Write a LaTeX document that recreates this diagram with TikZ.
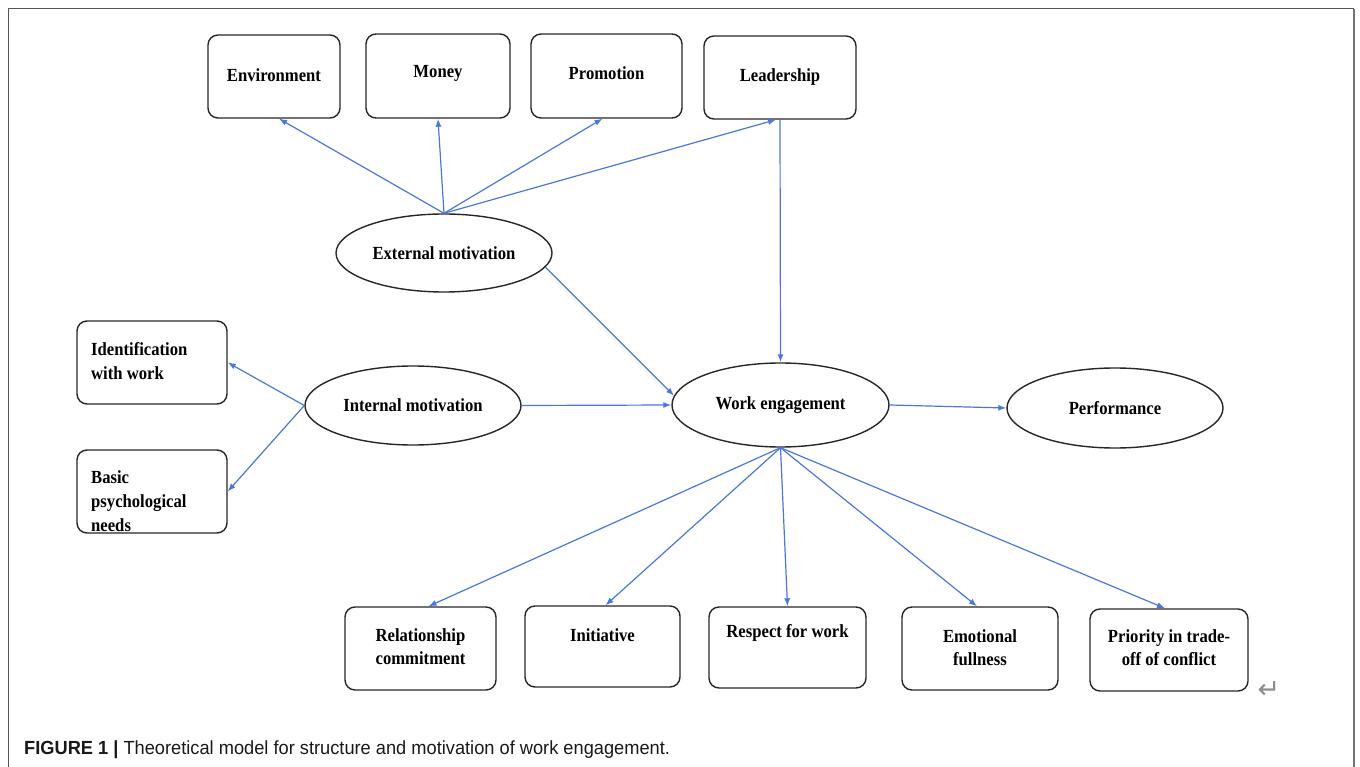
\documentclass[tikz,border=0pt]{standalone}
\usepackage{fontspec}
\setmainfont{Liberation Serif}
\newfontfamily\nodefont{Liberation Serif}[FakeStretch=0.9]
\newfontfamily\capfont{Liberation Sans}[FakeStretch=0.96]
\newfontfamily\symfont{DejaVu Sans}
\usetikzlibrary{shapes.geometric,arrows.meta,calc}
\definecolor{arrblue}{HTML}{4A78DA}
\definecolor{framegray}{HTML}{555555}
\begin{document}
\begin{tikzpicture}[x=1pt,y=-1pt,
  box/.style={draw=black!85, line width=1.4pt, rounded corners=10pt, inner sep=0pt},
  oval/.style={ellipse, draw=black!85, line width=1.4pt, inner sep=0pt,
    font=\nodefont\bfseries\fontsize{18.5}{23.5}\selectfont},
  lbl/.style={font=\nodefont\bfseries\fontsize{18.5}{23.5}\selectfont, align=center, inner sep=0pt},
  lbll/.style={lbl, align=left, anchor=west},
  arr/.style={draw=arrblue, line width=1.2pt, -{Latex[length=8pt,width=6pt]}}
]
\useasboundingbox (0,0) rectangle (1360,767);
% frame
\draw[draw=framegray, line width=1pt] (8,767) -- (8,9) -- (1354,9);
\draw[draw=black!55, line width=2pt] (1354,9) -- (1354,767);

% top boxes
\node[box, minimum width=132pt, minimum height=83pt] (env) at (274,76.5) {};
\node[lbl] (envt) at (274,75) {Environment};
\node[box, minimum width=144pt, minimum height=84pt] (money) at (438,76) {};
\node[lbl] (moneyt) at (438,73) {Money};
\node[box, minimum width=151pt, minimum height=84pt] (promo) at (606.5,76) {};
\node[lbl] (promot) at (606.5,73) {Promotion};
\node[box, minimum width=152pt, minimum height=83pt] (lead) at (780,77.5) {};
\node[lbl] (leadt) at (780,77) {Leadership};

% ellipses
\node[oval, minimum width=216pt, minimum height=78pt] (ext) at (444,253) {External motivation};
\node[oval, minimum width=216pt, minimum height=79pt] (int) at (413,405.5) {Internal motivation};
\node[oval, minimum width=217pt, minimum height=84pt] (we) at (780.5,405) {Work engagement};
\node[oval, minimum width=216pt, minimum height=80pt] (perf) at (1115,408) {Performance};

% left boxes
\node[box, minimum width=150pt, minimum height=83pt] (ident) at (152,362.5) {};
\node[lbll] (identt) at (91,361) {Identification\\with work};
\node[box, minimum width=150pt, minimum height=83pt] (basic) at (152,491.5) {};
\node[lbll, font=\nodefont\bfseries\fontsize{18.5}{24}\selectfont] (basict) at (91,501) {Basic\\psychological\\needs};

% bottom boxes
\node[box, minimum width=151pt, minimum height=83pt] (rel) at (420.5,648.5) {};
\node[lbl] (relt) at (420.5,646.5) {Relationship\\commitment};
\node[box, minimum width=155pt, minimum height=81pt] (ini) at (602.5,646.5) {};
\node[lbl] (init) at (602.5,635) {Initiative};
\node[box, minimum width=157pt, minimum height=81pt] (resp) at (787.5,647.5) {};
\node[lbl] (respt) at (787.5,633) {Respect for work};
\node[box, minimum width=156pt, minimum height=83pt] (emo) at (980,648.5) {};
\node[lbl] (emot) at (980,647.5) {Emotional\\fullness};
\node[box, minimum width=158pt, minimum height=82pt] (prio) at (1169,650) {};
\node[lbl] (priot) at (1169,647.5) {Priority in trade-\\off of conflict};

% connectors
\draw[arr] (ext.north) -- ([xshift=5pt]env.south);
\draw[arr] (ext.north) -- (money.south);
\draw[arr] (ext.north) -- ([xshift=-4pt]promo.south);
\draw[arr] (ext.north) -- ([xshift=-4pt]lead.south);
\draw[arr] (lead.south) -- (we.north);
\draw[arr] (ext.-8) -- (we.175);
\draw[arr] (int.east) -- (we.west);
\draw[arr] (int.west) -- (ident.east);
\draw[arr] (int.west) -- (basic.east);
\draw[arr] (we.east) -- (perf.west);
\draw[arr] (we.south) -- ([xshift=8pt]rel.north);
\draw[arr] (we.south) -- ([xshift=3pt]ini.north);
\draw[arr] (we.south) -- (resp.north);
\draw[arr] (we.south) -- ([xshift=-3pt]emo.north);
\draw[arr] (we.south) -- ([xshift=-4pt]prio.north);

% return mark
\node[font=\symfont\fontsize{27}{27}\selectfont, text=black!45, inner sep=0pt] (ret) at (1269,690) {↵};

% caption
\node[anchor=base west, inner sep=0pt, font=\capfont\fontsize{19}{19}\selectfont, text=black!90] (cap) at (24,754)
  {\textbf{FIGURE 1 |} Theoretical model for structure and motivation of work engagement.};
\end{tikzpicture}
\end{document}
